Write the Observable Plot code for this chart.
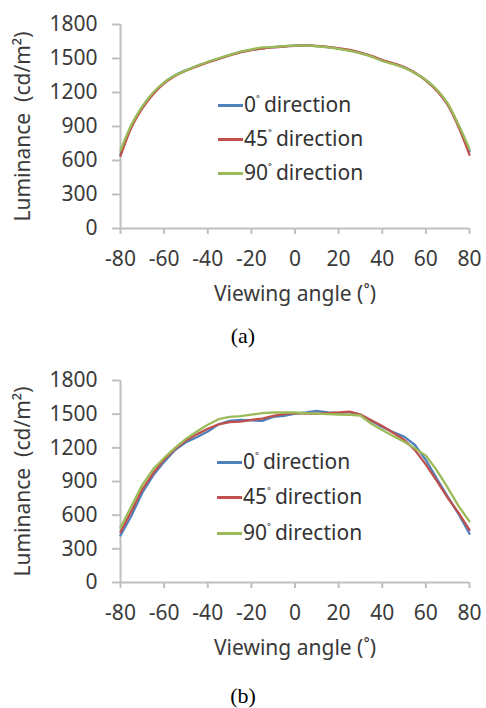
<!DOCTYPE html>
<html>
<head>
<meta charset="utf-8">
<script src="https://cdn.jsdelivr.net/npm/d3@7"></script>
<script src="https://cdn.jsdelivr.net/npm/@observablehq/plot@0.6"></script>
<style>
  html, body { margin: 0; padding: 0; background: #fff; }
  #wrap { position: relative; width: 486px; height: 708px; overflow: hidden; font-family: "Noto Sans", sans-serif; }
  .panel { position: absolute; left: 0; }
  .caption { position: absolute; width: 486px; left: 0; text-align: center; font-family: "Liberation Serif", serif; font-size: 22px; color: #000; line-height: 1; }
  .leg { position: absolute; font-size: 21px; color: #333; line-height: 1; white-space: nowrap; }
  .leg .sw { display: inline-block; width: 25px; height: 2.5px; vertical-align: middle; margin-right: 1px; position: relative; top: -1px; }
  .deg { font-size: 13px; position: relative; top: -6px; margin-right: 4px; }
</style>
</head>
<body>
<div id="wrap"></div>
<script>
// ---- data ----
const seriesNames = ["0˚ direction", "45˚ direction", "90˚ direction"];
const seriesColors = ["#4F81BD", "#C0504D", "#9BBB59"];
const angles = [-80,-75,-70,-65,-60,-55,-50,-45,-40,-35,-30,-25,-20,-15,-10,-5,0,5,10,15,20,25,30,35,40,45,50,55,60,65,70,75,80];
const xTicks = [-80,-60,-40,-20,0,20,40,60,80];
const yTicks = [0,300,600,900,1200,1500,1800];

// panel (a)
const a0 = [655,905,1072,1195,1288,1352,1396,1434,1468,1500,1530,1558,1576,1590,1600,1608,1614,1617,1610,1600,1588,1572,1550,1520,1482,1455,1422,1372,1308,1222,1098,905,680];
const a45 = [640,890,1060,1185,1280,1346,1392,1430,1465,1497,1527,1555,1574,1588,1598,1606,1612,1616,1612,1602,1590,1575,1553,1524,1486,1458,1425,1374,1306,1216,1090,895,650];
const a90 = [690,915,1078,1200,1290,1350,1394,1436,1470,1502,1532,1560,1580,1598,1602,1609,1613,1615,1608,1598,1585,1568,1546,1516,1478,1450,1418,1370,1310,1226,1104,915,700];

// panel (b)
const b0 = [420,595,800,955,1075,1180,1250,1295,1345,1410,1440,1448,1445,1440,1475,1485,1505,1515,1530,1515,1510,1518,1495,1440,1385,1340,1300,1225,1090,925,765,610,435];
const b45 = [450,635,830,975,1095,1190,1265,1320,1370,1410,1430,1433,1450,1460,1485,1500,1510,1505,1505,1510,1515,1523,1497,1445,1395,1335,1272,1180,1050,905,755,620,470];
const b90 = [490,680,870,1010,1110,1200,1280,1345,1405,1455,1475,1483,1495,1510,1515,1515,1515,1510,1505,1500,1497,1495,1488,1415,1360,1305,1255,1195,1130,1000,845,680,545];

const yLabel = "Luminance  (cd/m²)";
const xLabel = "Viewing angle (˚)";

function rows(lists) {
  const out = [];
  lists.forEach((vals, s) => vals.forEach((v, i) => out.push({angle: angles[i], value: v, series: seriesNames[s]})));
  return out;
}

function makePlot(data, marginTop, marginBottom, curve) {
  return Plot.plot({
    width: 486,
    height: 310,
    marginLeft: 120,
    marginRight: 17,
    marginTop,
    marginBottom,
    style: {fontFamily: "'Noto Sans', sans-serif", fontSize: "21px", color: "#3a3a3a", background: "#fff", whiteSpace: "pre"},
    x: {domain: [-80, 80]},
    y: {domain: [0, 1800]},
    color: {domain: seriesNames, range: seriesColors},
    marks: [
      Plot.axisY({ticks: yTicks, tickSize: 8, tickPadding: 15, stroke: "#bfbfbf", strokeWidth: 2, fill: "#3a3a3a",
        tickFormat: d => String(d), label: yLabel, labelAnchor: "center", labelArrow: "none", labelOffset: 105}),
      Plot.axisX({ticks: xTicks, tickSize: 6, tickPadding: 17, stroke: "#bfbfbf", strokeWidth: 2, fill: "#3a3a3a",
        tickFormat: d => String(d), label: xLabel, labelAnchor: "center", labelArrow: "none", labelOffset: 72}),
      Plot.ruleX([-80], {stroke: "#bfbfbf", strokeWidth: 2}),
      Plot.ruleY([0], {stroke: "#bfbfbf", strokeWidth: 2}),
      Plot.line(data, {x: "angle", y: "value", z: "series", stroke: "series", strokeWidth: 2.3, curve})
    ]
  });
}

const wrap = document.getElementById("wrap");

const pa = makePlot(rows([a0, a45, a90]), 24, 82, "monotone-x");
pa.classList.add("panel"); pa.style.top = "0px";
wrap.appendChild(pa);

const pb = makePlot(rows([b0, b45, b90]), 24, 84, "linear");
pb.classList.add("panel"); pb.style.top = "356px";
wrap.appendChild(pb);

function legend(left, tops) {
  seriesNames.forEach((name, i) => {
    const d = document.createElement("div");
    d.className = "leg";
    d.style.left = left + "px";
    d.style.top = (tops[i] - 11) + "px";
    const [num, rest] = name.split("˚");
    d.innerHTML = `<span class="sw" style="background:${seriesColors[i]}"></span>${num}<span class="deg">˚</span>${rest.trim()}`;
    wrap.appendChild(d);
  });
}
legend(218, [105, 139, 173]);
legend(217, [462, 497, 533]);

function caption(text, top) {
  const c = document.createElement("div");
  c.className = "caption";
  c.style.top = top + "px";
  c.textContent = text;
  wrap.appendChild(c);
}
caption("(a)", 325);
caption("(b)", 685);
</script>
</body>
</html>
